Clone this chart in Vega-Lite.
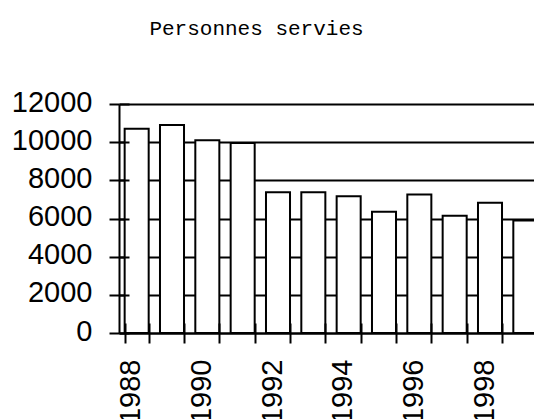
{
  "$schema": "https://vega.github.io/schema/vega-lite/v6.json",
  "width": 415,
  "height": 229,
  "autosize": {"type": "none"},
  "padding": {"left": 119, "top": 104, "right": 0, "bottom": 86},
  "background": "white",
  "title": {"text": "Personnes servies", "font": "Liberation Mono", "fontSize": 21, "fontWeight": "normal", "color": "black", "anchor": "middle", "dx": -70, "offset": 32, "baseline": "alphabetic"},
  "config": {"view": {"stroke": null}},
  "data": {"values": [
    {"year": 1988, "value": 10700},
    {"year": 1989, "value": 10900},
    {"year": 1990, "value": 10100},
    {"year": 1991, "value": 9950},
    {"year": 1992, "value": 7380},
    {"year": 1993, "value": 7380},
    {"year": 1994, "value": 7160},
    {"year": 1995, "value": 6350},
    {"year": 1996, "value": 7260},
    {"year": 1997, "value": 6150},
    {"year": 1998, "value": 6820},
    {"year": 1999, "value": 5900}
  ]},
  "layer": [
    {
      "mark": {"type": "bar", "fill": "white", "stroke": "black", "strokeWidth": 2},
      "encoding": {
        "x": {"field": "year", "type": "ordinal",
          "scale": {"range": [0, 424], "paddingInner": 0.32, "paddingOuter": 0.16},
          "axis": {"orient": "bottom", "title": null, "tickBand": "extent", "tickSize": 10, "tickWidth": 2, "tickColor": "black", "domainColor": "black", "domainWidth": 2, "labelAngle": -90, "labelFont": "Liberation Sans", "labelFontSize": 29, "labelColor": "black", "labelPadding": 16, "labelOffset": -6, "labelOverlap": false, "labelExpr": "datum.value % 2 == 0 ? datum.label : ''", "grid": false, "zindex": 0}},
        "y": {"field": "value", "type": "quantitative",
          "scale": {"domain": [0, 12000], "nice": false},
          "axis": {"orient": "left", "title": null, "format": "d", "values": [0, 2000, 4000, 6000, 8000, 10000, 12000], "grid": true, "gridColor": "black", "gridWidth": 2, "gridOpacity": 1, "tickSize": 10, "tickWidth": 2, "tickColor": "black", "domainColor": "black", "domainWidth": 2, "labelFont": "Liberation Sans", "labelFontSize": 29, "labelColor": "black", "labelPadding": 17, "labelOffset": -2, "labelOverlap": false, "zindex": 0}}
      }
    },
    {
      "mark": {"type": "bar", "opacity": 0},
      "encoding": {
        "x": {"field": "year", "type": "ordinal",
          "axis": {"orient": "bottom", "title": null, "tickBand": "extent", "offset": -10, "tickSize": 10, "tickWidth": 2, "tickColor": "black", "domain": false, "labels": false, "grid": false, "zindex": 1}},
        "y": {"field": "value", "type": "quantitative",
          "axis": {"orient": "left", "title": null, "values": [0, 2000, 4000, 6000, 8000, 10000, 12000], "offset": -10, "tickSize": 10, "tickWidth": 2, "tickColor": "black", "domain": false, "labels": false, "grid": false, "zindex": 1}}
      }
    }
  ],
  "resolve": {"axis": {"x": "independent", "y": "independent"}}
}
